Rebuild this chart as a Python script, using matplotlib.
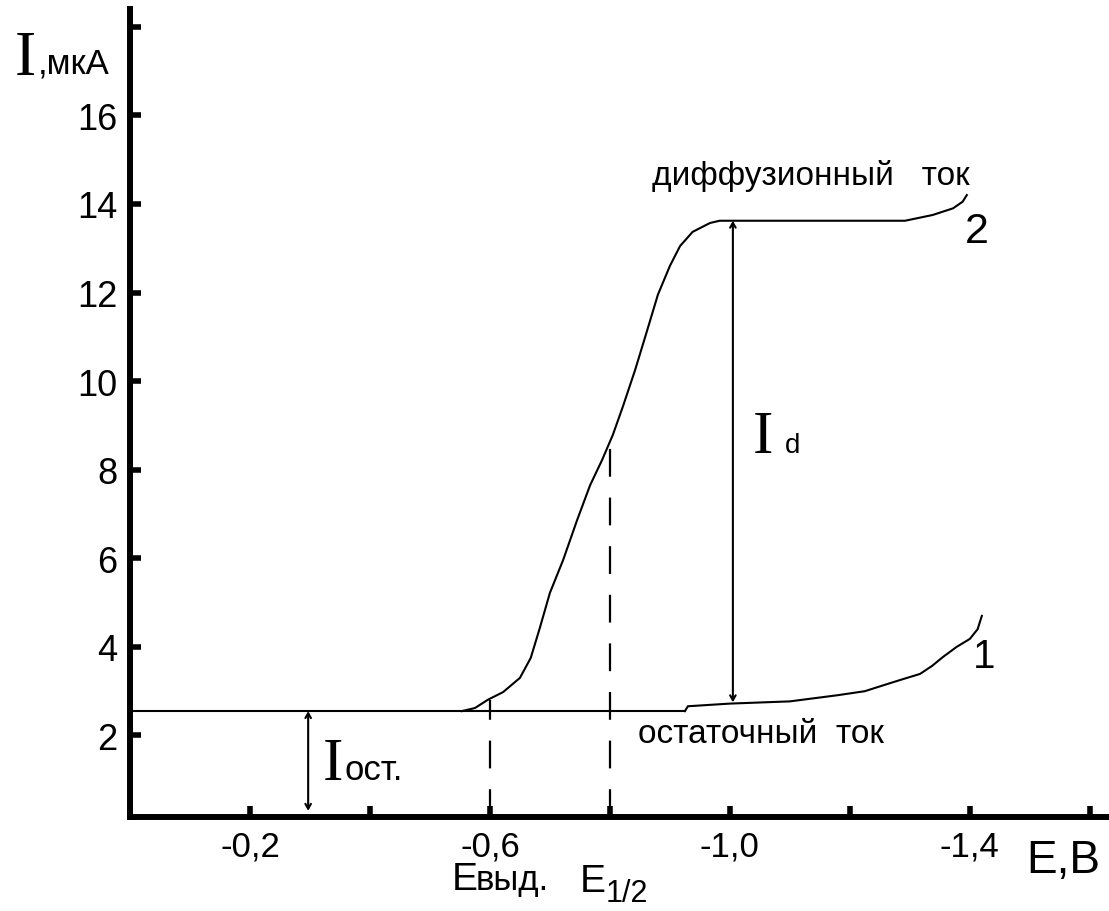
import matplotlib
matplotlib.use("Agg")
from matplotlib import pyplot as plt

plt.rcParams['font.family'] = ['Liberation Sans', 'DejaVu Sans']
plt.rcParams['lines.scale_dashes'] = False

# polarogram: residual current (curve 1) and wave with diffusion current (curve 2)
I_res = 2.55
E_res = [0.0, -0.925]

E1 = [-0.925, -0.93, -1.0, -1.1, -1.14, -1.18, -1.225, -1.262, -1.288,
      -1.317, -1.337, -1.355, -1.378, -1.4, -1.413, -1.42]
I1 = [2.55, 2.66, 2.72, 2.77, 2.84, 2.91, 3.0, 3.16, 3.27,
      3.39, 3.57, 3.77, 4.0, 4.18, 4.4, 4.7]

E2 = [-0.553, -0.575, -0.597, -0.622, -0.65, -0.668, -0.683, -0.70, -0.722,
      -0.745, -0.767, -0.787, -0.805, -0.822, -0.842, -0.862, -0.88, -0.90,
      -0.917, -0.938, -0.967, -0.983, -1.005, -1.292, -1.338, -1.372,
      -1.388, -1.395]
I2 = [2.55, 2.62, 2.81, 2.98, 3.30, 3.75, 4.42, 5.22, 5.96,
      6.85, 7.65, 8.22, 8.79, 9.44, 10.25, 11.14, 11.95, 12.60,
      13.05, 13.37, 13.57, 13.62, 13.62, 13.62, 13.75, 13.9,
      14.05, 14.2]

E_start = -0.6      # E выд.
E_half = -0.8       # E 1/2
I_at_start = 2.8
I_at_half = 8.6
E_d = -1.005        # where I_d is measured
I_d_top = 13.62
I_d_bottom = 2.75
E_ost = -0.297      # where I ост. is measured
I_bottom = 0.3

x_ticks = [-0.2, -0.4, -0.6, -0.8, -1.0, -1.2, -1.4, -1.6]
x_labels = ['-0,2', '', '-0,6', '', '-1,0', '', '-1,4', '']
y_ticks = [2, 4, 6, 8, 10, 12, 14, 16, 18]
y_labels = ['2', '4', '6', '8', '10', '12', '14', '16', '']

fig = plt.figure(figsize=(11.09, 9.12), dpi=100)
ax = fig.add_axes([130 / 1109, 94 / 912, 979 / 1109, 808 / 912])

ax.plot(E_res, [I_res, I_res], color='black', lw=1.5)
ax.plot(E1, I1, color='black', lw=1.5)
ax.plot(E2, I2, color='black', lw=1.5)

dash = (0, (20, 15))
ax.plot([E_start, E_start], [0.16, I_at_start], color='black', lw=1.6, linestyle=dash)
ax.plot([E_half, E_half], [0.16, I_at_half], color='black', lw=1.6, linestyle=dash)

arrow = dict(arrowstyle='<->,head_length=0.35,head_width=0.2', color='black',
             lw=1.5, shrinkA=0, shrinkB=0)
ax.annotate('', xy=(E_d, I_d_top), xytext=(E_d, I_d_bottom), arrowprops=arrow)
ax.annotate('', xy=(E_ost, I_res), xytext=(E_ost, I_bottom), arrowprops=arrow)

# labels inside the plot
ax.text(-0.87, 14.45, 'диффузионный   ток', fontsize=24, ha='left', va='baseline')
ax.text(-0.847, 1.85, 'остаточный  ток', fontsize=24, ha='left', va='baseline')
ax.text(-1.392, 13.14, '2', fontsize=31, ha='left', va='baseline')
ax.text(-1.405, 3.54, '1', fontsize=29, ha='left', va='baseline')
ax.text(-1.038, 8.4, 'I', fontsize=44, family='Liberation Serif', ha='left', va='baseline')
ax.text(-1.092, 8.4, 'd', fontsize=20, ha='left', va='baseline')
ax.text(-0.322, 1.02, 'I', fontsize=44, family='Liberation Serif', ha='left', va='baseline')
ax.text(-0.358, 1.02, 'ост.', fontsize=25, ha='left', va='baseline')

ax.set_xlim(0, -1.632)
ax.set_ylim(0.16, 18.4)
ax.set_xticks(x_ticks)
ax.set_xticklabels(x_labels)
ax.set_yticks(y_ticks)
ax.set_yticklabels(y_labels)

for s in ['top', 'right']:
    ax.spines[s].set_visible(False)
for s in ['left', 'bottom']:
    ax.spines[s].set_linewidth(4.3)
    ax.spines[s].set_capstyle('projecting')

ax.tick_params(axis='both', direction='in', length=8, width=4, color='black')
ax.tick_params(axis='x', labelsize=25, pad=9)
ax.tick_params(axis='y', labelsize=26, pad=9)

# axis titles
fig.text(15 / 1109, 1 - 75 / 912, 'I', fontsize=46, family='Liberation Serif', va='baseline')
fig.text(38 / 1109, 1 - 73 / 912, ',мкА', fontsize=25, va='baseline')
fig.text(1026 / 1109, 1 - 873 / 912, 'E,B', fontsize=33, va='baseline')
fig.text(452 / 1109, 1 - 890 / 912, 'E', fontsize=28, va='baseline')
fig.text(476 / 1109, 1 - 890 / 912, 'выд.', fontsize=25, va='baseline')
fig.text(580 / 1109, 1 - 892 / 912, 'E', fontsize=28, va='baseline')
fig.text(606 / 1109, 1 - 902 / 912, '1/2', fontsize=22, va='baseline')

fig.savefig('out.png', dpi=100)
